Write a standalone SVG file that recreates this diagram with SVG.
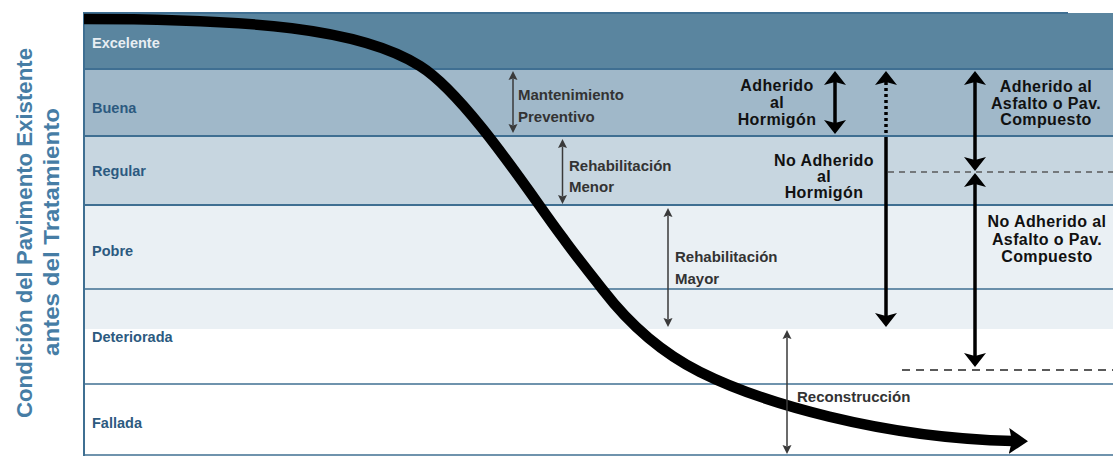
<svg xmlns="http://www.w3.org/2000/svg" width="1113" height="462" viewBox="0 0 1113 462">
  <style>
    .band-label { font-family: "Liberation Sans", Arial, sans-serif; font-weight: bold; font-size: 14.5px; fill: #2c5a80; }
    .band-label.light { fill: #e8eef3; }
    .axis-title { font-family: "Liberation Sans", Arial, sans-serif; font-weight: bold; font-size: 22px; fill: #467da5; }
    .note { font-family: "Liberation Sans", Arial, sans-serif; font-weight: bold; font-size: 15px; fill: #333333; }
    .big { font-family: "Liberation Sans", Arial, sans-serif; font-weight: bold; font-size: 16px; letter-spacing: 0.4px; fill: #111111; text-anchor: middle; }
    .grid { stroke: #3f6f92; fill: none; }
    .thin { stroke: #3a3a3a; stroke-width: 1.5; fill: none; marker-start: url(#ah-thin); marker-end: url(#ah-thin); }
    .thick { stroke: #000000; stroke-width: 3.5; fill: none; }
    .dash { stroke: #5a5a5a; fill: none; }
  </style>
  <defs>
    <marker id="ah-thin" viewBox="-1 -6 12 12" refX="1.5" refY="0" markerWidth="12" markerHeight="12" markerUnits="userSpaceOnUse" orient="auto-start-reverse">
      <path d="M9,0 L0,-4.5 L1.5,0 L0,4.5 Z" fill="#3a3a3a"/>
    </marker>
    <marker id="ah-thick" viewBox="-1 -12 17 24" refX="3" refY="0" markerWidth="17" markerHeight="24" markerUnits="userSpaceOnUse" orient="auto-start-reverse">
      <path d="M14,0 L0,-11 L3,0 L0,11 Z" fill="#000000"/>
    </marker>
    <marker id="ah-curve" viewBox="0 0 20 28" refX="4" refY="14" markerWidth="20" markerHeight="28" markerUnits="userSpaceOnUse" orient="auto">
      <path d="M0,1 L19,14 L0,27 L3,14 Z" fill="#000000"/>
    </marker>
  </defs>

  <rect x="0" y="0" width="1113" height="462" fill="#ffffff"/>

  <!-- Y axis title -->
  <g id="axis-title">
    <text class="axis-title" transform="translate(31.5,233) rotate(-90)" text-anchor="middle" textLength="370" lengthAdjust="spacingAndGlyphs">Condición del Pavimento Existente</text>
    <text class="axis-title" transform="translate(58.5,232) rotate(-90)" text-anchor="middle" textLength="248" lengthAdjust="spacingAndGlyphs">antes del Tratamiento</text>
  </g>

  <!-- Condition bands -->
  <g id="band-excelente">
    <rect x="84" y="13" width="1029" height="56" fill="#5a859f"/>
    <text class="band-label light" x="92" y="48">Excelente</text>
  </g>
  <g id="band-buena">
    <rect x="84" y="69" width="1029" height="67" fill="#a0b8c9"/>
    <text class="band-label" x="92" y="113">Buena</text>
  </g>
  <g id="band-regular">
    <rect x="84" y="136" width="1029" height="69" fill="#c7d6e0"/>
    <text class="band-label" x="92" y="176">Regular</text>
  </g>
  <g id="band-pobre">
    <rect x="84" y="205" width="1029" height="84" fill="#eaf0f4"/>
    <text class="band-label" x="92" y="256">Pobre</text>
  </g>
  <g id="band-deteriorada">
    <rect x="84" y="289" width="1029" height="40" fill="#eaf0f4"/>
    <rect x="84" y="329" width="1029" height="55" fill="#ffffff"/>
    <text class="band-label" x="92" y="342">Deteriorada</text>
  </g>
  <g id="band-fallada">
    <rect x="84" y="384" width="1029" height="71" fill="#ffffff"/>
    <text class="band-label" x="92" y="428">Fallada</text>
  </g>

  <!-- Grid lines -->
  <g id="grid">
    <line class="grid" x1="84" y1="13" x2="1068" y2="13" stroke-width="2"/>
    <line class="grid" x1="84" y1="69" x2="1113" y2="69" stroke-width="2.2"/>
    <line class="grid" x1="84" y1="136" x2="1113" y2="136" stroke-width="2"/>
    <line class="grid" x1="84" y1="205" x2="1113" y2="205" stroke-width="2"/>
    <line class="grid" x1="84" y1="289" x2="1113" y2="289" stroke-width="1.5"/>
    <line class="grid" x1="84" y1="384" x2="1113" y2="384" stroke-width="1.5"/>
    <line class="grid" x1="84" y1="455" x2="1113" y2="455" stroke-width="1.5"/>
    <line class="grid" x1="84" y1="12" x2="84" y2="456" stroke-width="2"/>
  </g>

  <!-- Deterioration curve -->
  <g id="curve">
    <path d="M84,19 C250,19 360,28 420,66 C468,96 538,206 563,238 L563,238 C575,255 590,273 603,290 C630,325 660,352 700,372 C760,402 880,438 1013,441" fill="none" stroke="#000000" stroke-width="10.5" marker-end="url(#ah-curve)"/>
  </g>

  <!-- Treatment labels -->
  <g id="label-mantenimiento">
    <text class="note" x="518" y="100">Mantenimiento</text>
    <text class="note" x="518" y="122">Preventivo</text>
  </g>
  <g id="label-rehab-menor">
    <text class="note" x="569" y="171">Rehabilitación</text>
    <text class="note" x="569" y="192">Menor</text>
  </g>
  <g id="label-rehab-mayor">
    <text class="note" x="675" y="262">Rehabilitación</text>
    <text class="note" x="675" y="284">Mayor</text>
  </g>
  <g id="label-reconstruccion">
    <text class="note" x="797" y="402">Reconstrucción</text>
  </g>
  <g id="label-adherido-hormigon">
    <text class="big" x="777" y="91">Adherido</text>
    <text class="big" x="777" y="108">al</text>
    <text class="big" x="777" y="125">Hormigón</text>
  </g>
  <g id="label-no-adherido-hormigon">
    <text class="big" x="824" y="166">No Adherido</text>
    <text class="big" x="824" y="182">al</text>
    <text class="big" x="824" y="198">Hormigón</text>
  </g>
  <g id="label-adherido-asfalto">
    <text class="big" x="1046" y="92">Adherido al</text>
    <text class="big" x="1046" y="109">Asfalto o Pav.</text>
    <text class="big" x="1046" y="125">Compuesto</text>
  </g>
  <g id="label-no-adherido-asfalto">
    <text class="big" x="1047" y="227">No Adherido al</text>
    <text class="big" x="1047" y="245">Asfalto o Pav.</text>
    <text class="big" x="1047" y="262">Compuesto</text>
  </g>

  <!-- Connectors -->
  <g id="connectors">
    <line class="thin" x1="513" y1="78.5" x2="513" y2="125.5"/>
    <line class="thin" x1="562.5" y1="146.5" x2="562.5" y2="196.5"/>
    <line class="thin" x1="668" y1="215.5" x2="668" y2="319.5"/>
    <line class="thin" x1="787" y1="337.5" x2="787" y2="446.5"/>

    <line class="thick" x1="835" y1="82" x2="835" y2="123" marker-start="url(#ah-thick)" marker-end="url(#ah-thick)"/>
    <line class="thick" x1="886" y1="82" x2="886" y2="133" stroke-dasharray="3 3" marker-start="url(#ah-thick)"/>
    <line class="thick" x1="886" y1="137" x2="886" y2="316" marker-end="url(#ah-thick)"/>
    <line class="thick" x1="975" y1="82" x2="975" y2="160" marker-start="url(#ah-thick)" marker-end="url(#ah-thick)"/>
    <line class="thick" x1="975" y1="184" x2="975" y2="356" marker-start="url(#ah-thick)" marker-end="url(#ah-thick)"/>

    <line class="dash" x1="888" y1="172" x2="1113" y2="172" stroke-width="1.5" stroke-dasharray="6 5"/>
    <line class="dash" x1="902" y1="370" x2="1113" y2="370" stroke-width="2" stroke-dasharray="8 6"/>
  </g>
</svg>
